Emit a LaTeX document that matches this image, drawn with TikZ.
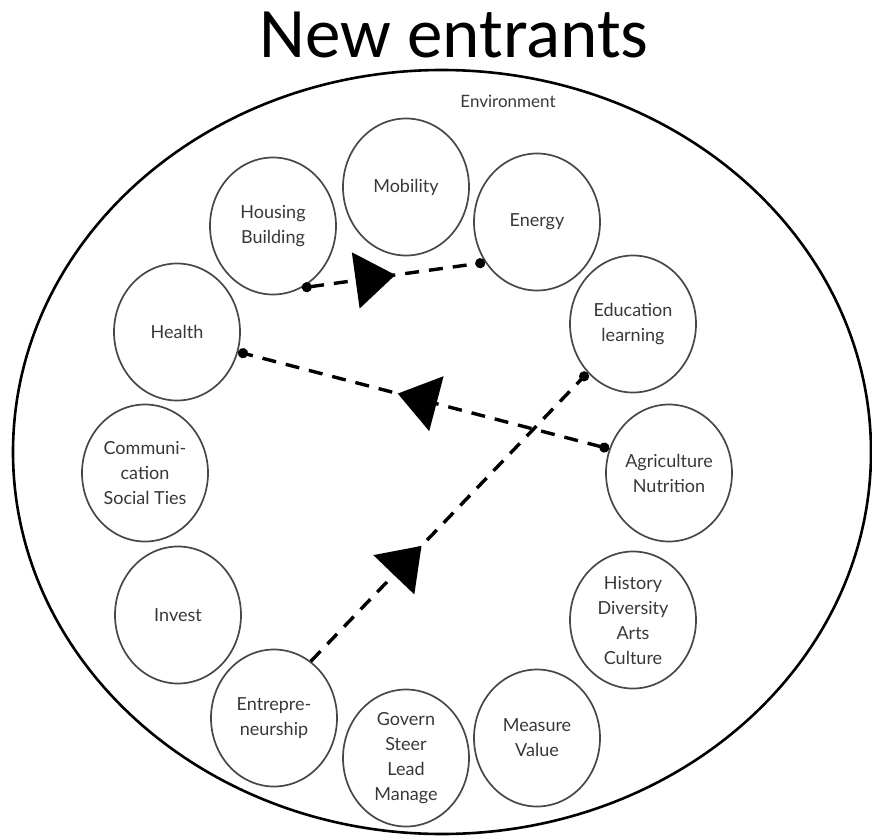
\documentclass[tikz,border=0pt]{standalone}
\usepackage{fontspec}
\usepackage{tikz}
\usetikzlibrary{positioning, shapes.geometric, arrows.meta, decorations.markings}
\newfontfamily\titlefont{Carlito}
\newfontfamily\topicfont{Lato}
\definecolor{rimgray}{gray}{0.28}
\definecolor{textgray}{gray}{0.22}
\tikzset{
    %Define style for the topic circles
    topic/.style={
           ellipse,
           draw=rimgray, line width=1.7pt,
           minimum width=126pt,
           minimum height=137pt,
           inner sep=0pt,
           align=center,
           text=textgray,
           font=\topicfont\fontsize{18}{25}\selectfont},
 %
    world/.style={
           ellipse,
           draw=black, line width=2.6pt,
           minimum width=858pt,
           minimum height=764pt,
           inner sep=0pt},
%
    % Define arrow style
    flow/.style={
           line width=3.4pt,
           dash pattern=on 14pt off 10pt,
           decoration={markings,
              mark=at position #1 with {\arrow{Triangle[length=40pt,width=56pt]}}},
           postaction={decorate}},
    dot/.tip={Circle[length=10pt]}
}
\begin{document}
\begin{tikzpicture}[x=1pt,y=-1pt]
  \useasboundingbox (0,0) rectangle (872,838);
  \node[anchor=base, font=\titlefont\fontsize{71}{84}\selectfont] (title) at (454,57) {New entrants};
  \node[world] (env) at (442,452) {};
  \node[anchor=base, text=textgray, font=\topicfont\fontsize{17}{20}\selectfont] (envlabel) at (508,107) {Environment};
  % ring of topics
  \node[topic] (mob) at (406,187) {Mobility};
  \node[topic] (ene) at (537,222) {Energy};
  \node[topic] (hou) at (273,226) {Housing\\Building};
  \node[topic] (hea) at (177,332) {Health};
  \node[topic] (edu) at (633,324) {Education\\learning};
  \node[topic] (agr) at (669,473) {Agriculture\\Nutrition};
  \node[topic] (com) at (145,473) {Communi-\\cation\\Social Ties};
  \node[topic] (inv) at (178,615) {Invest};
  \node[topic] (his) at (633,620) {History\\Diversity\\Arts\\Culture};
  \node[topic] (mea) at (537,738) {Measure\\Value};
  \node[topic] (ent) at (274,718) {Entrepre-\\neurship};
  \node[topic] (gov) at (406,758) {Govern\\Steer\\Lead\\Manage};
  % flows between topics
  \draw[flow=0.51, dot-dot] (hou.-65) -- (ene.218);
  \draw[flow=0.57, dot-dot] (agr.158) -- (hea.-18);
  \draw[flow=0.40, -dot] (ent.57) -- (edu.227);
\end{tikzpicture}
\end{document}
